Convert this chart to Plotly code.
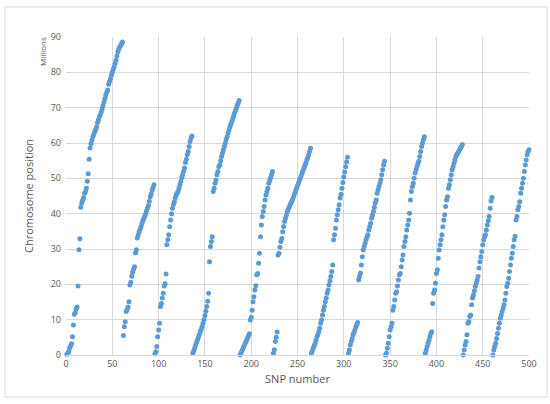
import numpy as np
import plotly.graph_objects as go

# Chromosome position (millions) of each SNP, one list per chromosome block
chr_a = [0.2, 0.5, 1.0, 2.0, 2.6, 3.2, 5.2, 8.5, 11.5, 12.0, 13.0, 13.6, 19.5, 29.8, 32.9, 41.8,
         43.0, 43.8, 44.5, 45.8, 46.3, 47.2, 49.2, 51.3, 55.4, 58.6, 59.8, 60.8, 61.8, 62.4, 63.2,
         63.8, 64.6, 65.8, 66.6, 67.4, 68.0, 68.8, 69.6, 70.6, 71.6, 72.6, 73.6, 74.4, 75.0, 76.6,
         77.4, 78.2, 79.2, 80.0, 80.8, 81.6, 82.5, 83.4, 84.6, 85.8, 86.6, 87.2, 87.6, 88.1, 88.6]
chr_b = [5.5, 8.0, 9.4, 12.3, 12.8, 13.6, 15.1, 19.8, 20.6, 22.3, 23.4, 24.3, 25.0, 28.9, 29.8,
         33.1, 34.0, 34.9, 35.6, 36.4, 37.2, 38.0, 38.6, 39.3, 40.0, 40.8, 41.6, 42.3, 43.5, 44.8,
         45.6, 46.6, 47.4, 48.2]
chr_c = [0.3, 0.9, 2.4, 5.2, 7.1, 9.0, 13.7, 14.6, 16.1, 17.5, 19.5, 20.2, 22.9, 31.2, 32.6, 34.0,
         36.3, 38.2, 40.0, 41.5, 42.6, 43.4, 44.4, 45.3, 45.8, 46.3, 47.2, 48.2, 49.1, 50.2, 51.0,
         52.0, 52.9, 54.5, 55.4, 56.7, 57.6, 59.0, 60.4, 61.4, 62.0]
chr_d = [0.5, 1.2, 2.0, 2.8, 3.6, 4.3, 5.0, 5.8, 6.6, 7.3, 8.1, 9.0, 10.0, 11.2, 12.4, 13.7,
         15.2, 17.5, 26.4, 30.7, 32.1, 33.5,
         46.3, 47.2, 48.6, 49.5, 51.0, 51.9, 53.3, 53.8, 55.0, 56.2, 57.2, 58.1, 59.0, 60.0, 61.0,
         61.8, 62.8, 63.7, 64.5, 65.3, 66.0, 66.8, 67.6, 68.5, 69.2, 69.9, 70.7, 71.3, 72.0]
chr_e = [0.0, 0.6, 1.2, 1.8, 2.4, 3.0, 3.6, 4.2, 4.8, 5.4, 6.0, 9.9, 10.7, 12.7, 15.1, 16.5, 18.4,
         19.6, 22.7, 23.1, 26.0, 28.8, 33.5, 36.8, 39.2, 40.6, 42.0, 43.9, 45.3, 46.3, 47.2, 48.6,
         49.4, 50.2, 51.0, 51.9]
chr_f = [0.5, 1.5, 3.8, 5.0, 6.5]
chr_g = [28.3, 28.8, 30.5, 32.1, 33.0, 34.9, 36.4, 37.8, 38.7, 39.6, 40.6, 41.2, 41.8, 42.5, 43.0,
         43.6, 44.2, 45.0, 45.8, 46.5, 47.2, 47.9, 48.6, 49.3, 50.0, 50.8, 51.5, 52.2, 52.9, 53.6,
         54.3, 55.2, 55.8, 56.6, 57.6, 58.5]
chr_h = [0.5, 1.2, 1.9, 2.6, 3.3, 4.2, 5.2, 5.7, 6.6, 7.6, 9.0, 9.9, 11.3, 12.7, 13.7, 15.1, 16.1,
         17.5, 18.4, 19.8, 21.0, 22.2, 23.6, 25.5, 32.6, 34.0, 35.9, 38.2, 39.7, 41.1, 42.5, 44.4,
         45.5, 47.2, 48.8, 50.4, 51.8, 53.3, 54.6, 56.0]
chr_i = [0.5, 1.4, 2.8, 3.8, 4.7, 5.7, 6.4, 7.1, 8.0, 8.6, 9.2,
         21.2, 22.2, 23.2, 25.5, 27.8, 29.7, 30.7, 31.6, 32.6, 33.4, 34.0, 35.4, 36.4, 37.3, 38.7,
         39.6, 40.6, 41.8, 43.0, 43.9, 45.8, 46.8, 47.7, 48.6, 49.6, 51.0, 52.4, 53.8, 54.8]
chr_j = [0.0, 0.5, 1.9, 3.3, 5.2, 7.1, 8.0, 9.0,
         12.7, 13.7, 15.6, 17.5, 17.9, 19.5, 21.2, 22.7, 23.1, 25.0, 26.9, 28.3, 30.7, 32.1, 33.5,
         35.4, 36.8, 38.2, 40.1, 43.9, 46.3, 47.7, 48.6, 50.0, 51.5, 52.4, 53.3, 54.1, 54.8, 56.2,
         57.6, 59.0, 60.0, 61.0, 61.8]
chr_k = [0.5, 1.4, 2.4, 3.3, 4.2, 5.2, 6.1, 6.6,
         14.6, 17.5, 18.4, 20.3, 23.1, 24.1, 27.4, 29.7, 31.2, 32.6, 34.0, 36.3, 38.2, 39.7, 42.0,
         43.9, 44.8, 47.2, 48.2, 49.6, 51.0, 52.4, 53.3, 54.3, 55.2, 56.2, 56.8, 57.1, 57.6, 58.1,
         58.6, 59.0, 59.6]
chr_l = [0.0, 1.4, 2.8, 3.8, 5.7, 9.0, 9.4, 10.9, 11.3, 14.2, 16.1, 17.0, 18.2, 19.4, 20.3, 21.2,
         22.2, 24.6, 26.4, 27.8, 29.3, 31.2, 32.6, 33.5, 34.0, 35.4, 36.8, 38.0, 39.2, 41.5, 43.6,
         44.6]
chr_m = [0.0, 1.4, 2.4, 3.3, 4.7, 6.1, 7.6, 9.0, 10.4, 11.3, 12.3, 13.2, 14.2, 15.6, 17.5, 19.4,
         20.3, 21.7, 23.6, 25.5, 27.4, 28.8, 30.7, 32.6, 33.6, 38.2, 39.2, 41.1, 42.0, 43.4, 45.8,
         47.2, 48.6, 50.0, 51.9, 53.8, 55.2, 56.7, 57.6, 58.1]

blocks = [chr_a, chr_b, chr_c, chr_d, chr_e, chr_f, chr_g, chr_h, chr_i, chr_j, chr_k, chr_l, chr_m]
positions = np.concatenate([np.array(b, dtype=float) for b in blocks])
snp_number = np.arange(1, len(positions) + 1)

x_ticks = [0, 50, 100, 150, 200, 250, 300, 350, 400, 450, 500]
y_ticks = [0, 10, 20, 30, 40, 50, 60, 70, 80, 90]

# plot area in pixels (550x404 canvas)
L, R, T, B = 66, 529, 37, 355
W, H = 550, 404


def px(x):
    return (x - L) / (R - L)


def py(y):
    return (B - y) / (B - T)


fig = go.Figure()
fig.add_trace(go.Scatter(
    x=snp_number, y=positions, mode='markers',
    marker=dict(color='#5b9bd5', size=5, line=dict(width=0)),
    cliponaxis=False, showlegend=False,
))

grid = '#d9d9d9'
tick_font = dict(family='Open Sans, Arial, sans-serif', size=9, color='#595959')

fig.update_layout(
    width=W, height=H,
    margin=dict(l=L, r=W - R, t=T, b=H - B),
    paper_bgcolor='white', plot_bgcolor='white',
    font=dict(family='Open Sans, Arial, sans-serif', color='#595959'),
    xaxis=dict(range=[0, 500], tickvals=x_ticks, showgrid=True, gridcolor=grid, gridwidth=1,
               zeroline=False, showline=True, linecolor=grid, ticks='', tickfont=tick_font,
               title=dict(text='SNP number', font=dict(size=11, color='#595959'), standoff=6)),
    yaxis=dict(range=[0, 90], tickvals=y_ticks, showgrid=True, gridcolor=grid, gridwidth=1,
               zeroline=False, showline=False, ticks='', tickfont=tick_font, ticklabelstandoff=4,
               title=dict(text='Chromosome position', font=dict(size=11, color='#595959'), standoff=14)),
    annotations=[dict(text='Millions', x=px(42), y=py(52), xref='paper', yref='paper',
                      xanchor='center', yanchor='middle',
                      textangle=-90, showarrow=False, font=dict(size=8, color='#595959'))],
    shapes=[dict(type='rect', xref='paper', yref='paper', x0=px(5), x1=px(547), y0=py(397), y1=py(7),
                 line=dict(color='#d9d9d9', width=1), layer='below')],
)

# the page body has a default 8px margin; remove it so the chart sits at 0,0
fig.write_html("out.html", config={'displayModeBar': False},
               post_script="document.body.style.margin='0px';")
